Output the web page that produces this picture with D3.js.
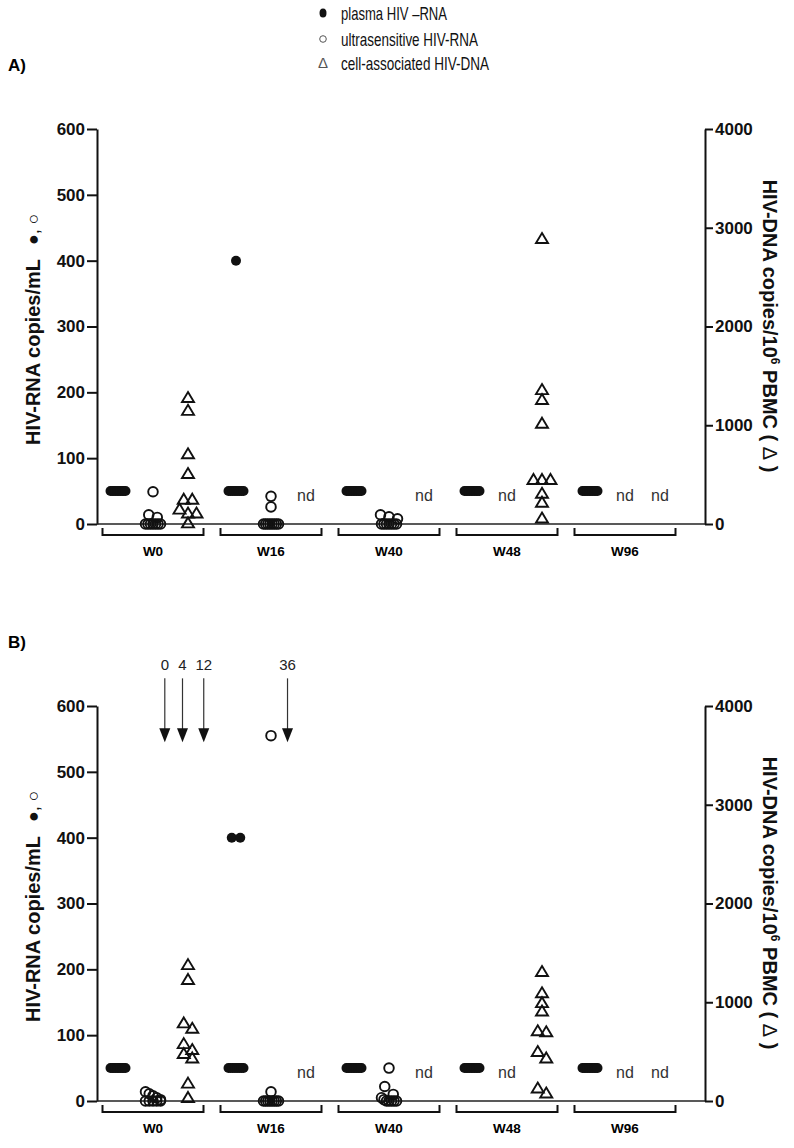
<!DOCTYPE html>
<html>
<head>
<meta charset="utf-8">
<script src="https://cdn.jsdelivr.net/npm/d3@7"></script>
<style>
  body { margin: 0; background: #fff; }
  svg text { font-family: "Liberation Sans", Arial, sans-serif; }
</style>
</head>
<body>
<div id="app"></div>
<script>
// ---- data ----
const weeks   = ["W0", "W16", "W40", "W48", "W96"];
const columns = ["plasma", "ultra", "dna"];
const rnaTicks = [0, 100, 200, 300, 400, 500, 600];
const dnaTicks = [0, 1000, 2000, 3000, 4000];

// panel A  (null = nd)
const plasmaA = [
  [50, 50, 50, 50, 50, 50, 50, 50, 50, 50],
  [400, 50, 50, 50, 50, 50, 50, 50, 50, 50],
  [50, 50, 50, 50, 50, 50, 50, 50, 50, 50],
  [50, 50, 50, 50, 50, 50, 50, 50, 50, 50],
  [50, 50, 50, 50, 50, 50, 50, 50, 50, 50]
];
const ultraA = [
  [49, 14, 10, 0, 0, 0, 0, 0, 0, 0],
  [42, 26, 0, 0, 0, 0, 0, 0, 0, 0],
  [14, 11, 8, 0, 0, 0, 0, 0, 0, 0],
  null,
  null
];
const dnaA = [
  [1280, 1150, 710, 510, 250, 250, 150, 110, 110, 10],
  null,
  null,
  [2890, 1360, 1260, 1020, 450, 450, 450, 310, 220, 60],
  null
];

// panel B
const plasmaB = [
  [50, 50, 50, 50, 50, 50, 50, 50, 50, 50],
  [400, 400, 50, 50, 50, 50, 50, 50, 50, 50],
  [50, 50, 50, 50, 50, 50, 50, 50, 50, 50],
  [50, 50, 50, 50, 50, 50, 50, 50, 50, 50],
  [50, 50, 50, 50, 50, 50, 50, 50, 50, 50]
];
const ultraB = [
  [14, 11, 8, 5, 2, 0, 0, 0, 0, 0],
  [555, 14, 0, 0, 0, 0, 0, 0, 0, 0],
  [50, 22, 10, 5, 2, 0, 0, 0, 0, 0],
  null,
  null
];
const dnaB = [
  [1380, 1230, 790, 735, 580, 520, 480, 435, 180, 35],
  null,
  null,
  [1310, 1095, 995, 910, 710, 700, 500, 435, 130, 80],
  null
];

// week arrows in panel B (position in week-group units, label)
const arrowPos    = [0.60, 0.75, 0.93, 1.64];
const arrowLabels = ["0", "4", "12", "36"];
const arrowTip = 545, arrowTop = 642;

const legendLabels = ["plasma HIV \u2013RNA", "ultrasensitive HIV-RNA", "cell-associated HIV-DNA"];

// ---- layout ----
const W = 794, H = 1148;
const svg = d3.select("#app").append("svg")
  .attr("width", W).attr("height", H);

const xLeft = 97, xRight = 705;
const xGroup = d3.scaleBand().domain(weeks).range([94, 684]);
const xCont  = d3.scaleLinear().domain([0, weeks.length]).range([94, 684]);
const xCol   = d3.scalePoint().domain(columns).range([-35, 35]);
const colX = (w, c) => xGroup(w) + xGroup.bandwidth() / 2 + xCol(c);

// spread points with close values sideways, like a column scatter
function swarm(vals, y, cx, thresh, step) {
  const pts = vals.map(v => ({ v, y: y(v) })).sort((a, b) => a.y - b.y);
  const rows = [];
  pts.forEach(p => {
    const r = rows[rows.length - 1];
    if (r && p.y - r[0].y < thresh) r.push(p); else rows.push([p]);
  });
  rows.forEach(r => {
    const n = r.length;
    const s = n <= 3 ? step : Math.min(step, 15 / (n - 1));
    r.forEach((p, i) => { p.x = cx + (i - (n - 1) / 2) * s; });
  });
  return pts;
}

const tri = "M0,-5.6L6,4.4L-6,4.4Z";

function panel(top, tag, plasma, ultra, dna, withArrows) {
  const g = svg.append("g").attr("transform", `translate(0,${top})`);
  const yL = d3.scaleLinear().domain([0, 600]).range([524, 129]);
  const yR = d3.scaleLinear().domain([0, 4000]).range([524, 129]);

  g.append("text").attr("x", 8).attr("y", 71)
    .attr("font-size", 17).attr("font-weight", "bold").text(tag);

  // axes
  const axL = g.append("g").attr("transform", `translate(${xLeft},0)`)
    .call(d3.axisLeft(yL).tickValues(rnaTicks).tickSize(10).tickSizeOuter(0).tickPadding(2));
  const axR = g.append("g").attr("transform", `translate(${xRight},0)`)
    .call(d3.axisRight(yR).tickValues(dnaTicks).tickFormat(d3.format("d"))
      .tickSize(8).tickSizeOuter(0).tickPadding(2));
  [axL, axR].forEach(a => {
    a.selectAll("path,line").attr("stroke", "#111").attr("stroke-width", 2);
    a.selectAll("text").attr("font-size", 17).attr("font-weight", "bold").attr("fill", "#111");
  });

  // baseline
  g.append("line").attr("x1", xLeft).attr("x2", xRight)
    .attr("y1", yL(0)).attr("y2", yL(0))
    .attr("stroke", "#222").attr("stroke-width", 1.6);

  // brackets and week labels
  weeks.forEach(w => {
    const c = xGroup(w) + xGroup.bandwidth() / 2;
    g.append("path")
      .attr("d", `M${c - 50.5},528V535H${c + 50.5}V528`)
      .attr("fill", "none").attr("stroke", "#111").attr("stroke-width", 2);
    g.append("text").attr("x", c).attr("y", 556).attr("text-anchor", "middle")
      .attr("font-size", 13.5).attr("font-weight", "bold").text(w);
  });

  // axis titles
  const lt = g.append("text")
    .attr("transform", `translate(40,445) rotate(-90)`)
    .attr("font-size", 20).attr("font-weight", "bold").attr("fill", "#111");
  lt.append("tspan").text("HIV-RNA copies/mL");
  lt.append("tspan").attr("font-size", 18).attr("font-weight", "normal").attr("dx", 14).attr("dy", -1)
    .text("\u25CF, \u25CB");

  const rt = g.append("text")
    .attr("transform", `translate(763,326) rotate(90)`)
    .attr("text-anchor", "middle")
    .attr("font-size", 20).attr("font-weight", "bold").attr("fill", "#111");
  rt.append("tspan").text("HIV-DNA copies/10");
  rt.append("tspan").attr("font-size", 12).attr("dy", -8).text("6");
  rt.append("tspan").attr("dy", 8).text(" PBMC ( ");
  rt.append("tspan").attr("font-weight", "normal").text("\u0394");
  rt.append("tspan").text(" )");

  // marks
  weeks.forEach((w, i) => {
    const pl = swarm(plasma[i], yL, colX(w, "plasma"), 8, 8.5);
    g.selectAll(null).data(pl).enter().append("circle")
      .attr("cx", d => d.x).attr("cy", d => d.y).attr("r", 5).attr("fill", "#111");

    if (ultra[i]) {
      const us = swarm(ultra[i], yL, colX(w, "ultra"), 8, 8.5);
      g.selectAll(null).data(us).enter().append("circle")
        .attr("cx", d => d.x).attr("cy", d => d.y).attr("r", 4.8)
        .attr("fill", "none").attr("stroke", "#111").attr("stroke-width", 1.9);
    } else {
      g.append("text").attr("x", colX(w, "ultra")).attr("y", yL(44)).attr("dy", "0.35em")
        .attr("text-anchor", "middle").attr("font-size", 16).attr("fill", "#333").text("nd");
    }

    if (dna[i]) {
      const dn = swarm(dna[i], yR, colX(w, "dna"), 8, 8.5);
      g.selectAll(null).data(dn).enter().append("path")
        .attr("d", tri).attr("transform", d => `translate(${d.x},${d.y})`)
        .attr("fill", "none").attr("stroke", "#111").attr("stroke-width", 1.9)
        .attr("stroke-linejoin", "miter");
    } else {
      g.append("text").attr("x", colX(w, "dna")).attr("y", yL(44)).attr("dy", "0.35em")
        .attr("text-anchor", "middle").attr("font-size", 16).attr("fill", "#333").text("nd");
    }
  });

  if (withArrows) {
    arrowPos.forEach((p, i) => {
      const x = xCont(p);
      g.append("line").attr("x1", x).attr("x2", x)
        .attr("y1", yL(arrowTop)).attr("y2", yL(arrowTip) - 12)
        .attr("stroke", "#333").attr("stroke-width", 1.2);
      g.append("path")
        .attr("d", `M${x - 5.5},${yL(arrowTip) - 14}H${x + 5.5}L${x},${yL(arrowTip)}Z`)
        .attr("fill", "#111");
      g.append("text").attr("x", x).attr("y", yL(arrowTop) - 8)
        .attr("text-anchor", "middle").attr("font-size", 15).attr("fill", "#222")
        .text(arrowLabels[i]);
    });
  }
}

// legend
const lg = svg.append("g");
legendLabels.forEach((t, i) => {
  const cy = [13, 39, 63][i];
  if (i === 0) lg.append("ellipse").attr("cx", 323).attr("cy", cy).attr("rx", 3.5).attr("ry", 4.5).attr("fill", "#111");
  if (i === 1) lg.append("circle").attr("cx", 323).attr("cy", cy).attr("r", 3.3)
    .attr("fill", "none").attr("stroke", "#555").attr("stroke-width", 1);
  if (i === 2) lg.append("text").attr("x", 323).attr("y", cy).attr("dy", "0.35em")
    .attr("text-anchor", "middle").attr("font-size", 15).attr("fill", "#555").text("\u0394");
  lg.append("text").attr("x", 341).attr("y", cy).attr("dy", "0.36em")
    .attr("font-size", 19).attr("fill", "#111")
    .attr("textLength", [106, 137, 148][i]).attr("lengthAdjust", "spacingAndGlyphs")
    .text(t);
});

panel(0, "A)", plasmaA, ultraA, dnaA, false);
panel(577, "B)", plasmaB, ultraB, dnaB, true);
</script>
</body>
</html>
